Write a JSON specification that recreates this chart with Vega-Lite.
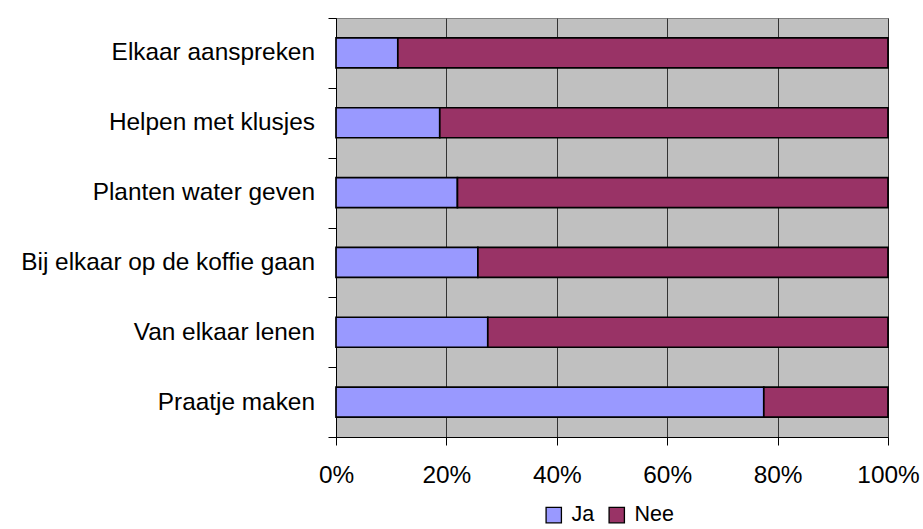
{
  "$schema": "https://vega.github.io/schema/vega-lite/v6.json",
  "width": 552,
  "height": 419,
  "autosize": {"type": "none"},
  "padding": {"left": 336, "top": 18, "right": 35, "bottom": 92},
  "background": "white",
  "config": {
    "font": "Liberation Sans",
    "view": {"stroke": "#808080", "strokeWidth": 1, "fill": "#C0C0C0"}
  },
  "data": {
    "values": [
      {"vraag": "Elkaar aanspreken", "antwoord": "Ja", "pct": 11.2},
      {"vraag": "Elkaar aanspreken", "antwoord": "Nee", "pct": 88.8},
      {"vraag": "Helpen met klusjes", "antwoord": "Ja", "pct": 18.8},
      {"vraag": "Helpen met klusjes", "antwoord": "Nee", "pct": 81.2},
      {"vraag": "Planten water geven", "antwoord": "Ja", "pct": 22.0},
      {"vraag": "Planten water geven", "antwoord": "Nee", "pct": 78.0},
      {"vraag": "Bij elkaar op de koffie gaan", "antwoord": "Ja", "pct": 25.7},
      {"vraag": "Bij elkaar op de koffie gaan", "antwoord": "Nee", "pct": 74.3},
      {"vraag": "Van elkaar lenen", "antwoord": "Ja", "pct": 27.5},
      {"vraag": "Van elkaar lenen", "antwoord": "Nee", "pct": 72.5},
      {"vraag": "Praatje maken", "antwoord": "Ja", "pct": 77.5},
      {"vraag": "Praatje maken", "antwoord": "Nee", "pct": 22.5}
    ]
  },
  "mark": {"type": "bar", "height": {"band": 0.43}, "stroke": "black", "strokeWidth": 1.7},
  "encoding": {
    "y": {
      "field": "vraag",
      "type": "nominal",
      "sort": null,
      "scale": {"paddingInner": 0, "paddingOuter": 0},
      "axis": {
        "title": null,
        "tickBand": "extent",
        "tickSize": 8,
        "tickColor": "black",
        "domainColor": "black",
        "labelFontSize": 24.4,
        "labelColor": "black",
        "labelPadding": 13.5,
        "labelLimit": 400,
        "grid": false
      }
    },
    "x": {
      "field": "pct",
      "type": "quantitative",
      "stack": "normalize",
      "scale": {"domain": [0, 1], "nice": false},
      "axis": {
        "title": null,
        "format": ".0%",
        "values": [0, 0.2, 0.4, 0.6, 0.8, 1],
        "tickSize": 8,
        "tickColor": "black",
        "domainColor": "black",
        "labelFontSize": 24.4,
        "labelColor": "black",
        "labelPadding": 18,
        "labelFlush": false,
        "grid": true,
        "gridColor": "#333333",
        "gridOpacity": 1,
        "gridWidth": 1
      }
    },
    "color": {
      "field": "antwoord",
      "type": "nominal",
      "scale": {"domain": ["Ja", "Nee"], "range": ["#9999FF", "#993366"]},
      "legend": {
        "title": null,
        "orient": "none",
        "legendX": 207,
        "legendY": 486,
        "direction": "horizontal",
        "symbolType": "square",
        "symbolSize": 235,
        "symbolStrokeColor": "black",
        "symbolStrokeWidth": 1.3,
        "symbolOpacity": 1,
        "labelFontSize": 21.5,
        "labelColor": "black",
        "labelOffset": 7,
        "columnPadding": 11
      }
    },
    "order": {"field": "antwoord", "sort": "ascending"}
  }
}
